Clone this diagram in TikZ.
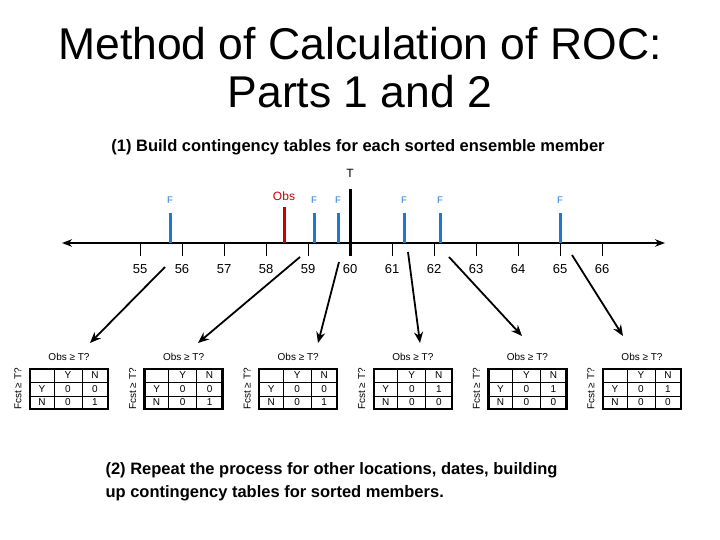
\documentclass[tikz,border=0pt]{standalone}
\usepackage{fontspec}
\setmainfont{Liberation Sans}
\usetikzlibrary{arrows.meta}
\tikzset{
  fcst/.style={line width=3pt, draw={rgb,255:red,30;green,120;blue,210}},
  flabel/.style={text={rgb,255:red,30;green,120;blue,210}, font=\fontsize{9.5}{9.5}\selectfont},
  cell/.style={font=\fontsize{10}{10}\selectfont},
  link/.style={line width=1.8pt, -{Stealth[length=11pt,width=9pt]}}
}
\begin{document}
\begin{tikzpicture}[x=1pt,y=-1pt]
    \useasboundingbox (0,0) rectangle (720,540);
    % Titles
    \node (title) at (360,68) [align=center, font=\fontsize{44.5}{48}\selectfont] {Method of Calculation of ROC:\\Parts 1 and 2};
    \node (part1) at (358,147) [font=\bfseries\fontsize{16.5}{16.5}\selectfont] {(1) Build contingency tables for each sorted ensemble member};

    % Number line
    \draw[line width=2pt, {Stealth[length=10pt]}-{Stealth[length=10pt]}] (62,243) -- (665,243);
    \foreach \v [count=\i from 0] in {55,...,66} {
        \draw[line width=0.8pt] (140+42*\i,243) -- (140+42*\i,256);
        \node at (140+42*\i,269) [font=\fontsize{13}{13}\selectfont] {\v};
    }
    % Threshold
    \draw[line width=3pt] (350,189) -- (350,256);
    \node (T) at (350,173) [font=\fontsize{12}{12}\selectfont] {T};
    % Observation
    \draw[line width=3pt, red!80!black] (284,207) -- (284,243);
    \node at (284,196) [text=red!80!black, font=\fontsize{12}{12}\selectfont] {Obs};
    % Forecasts
    \foreach \fx in {170,314,338,404,440,560} {
        \draw[fcst] (\fx,213) -- (\fx,243);
        \node at (\fx,200) [flabel] {F};
    }

    % Contingency tables
    \foreach \a/\b/\c/\d [count=\k from 0] in {0/0/0/1, 0/0/0/1, 0/0/0/1, 0/1/0/0, 0/1/0/0, 0/1/0/0} {
        \begin{scope}[shift={(30+114.6*\k,369)}]
            \node (obs\k) at (39,-12) [cell] {Obs ≥ T?};
            \node at (-12,20) [cell, rotate=90] {Fcst ≥ T?};
            \draw[line width=2.5pt] (0,0) rectangle (78,40);
            \draw[line width=1pt] (24,0) -- (24,40) (52,0) -- (52,40)
                (0,13) -- (78,13) (0,27) -- (78,27);
            \node at (38,6.5) [cell] {Y};
            \node at (65,6.5) [cell] {N};
            \node at (12,20) [cell] {Y};
            \node at (12,33.5) [cell] {N};
            \node at (38,20) [cell] {\a};
            \node at (65,20) [cell] {\b};
            \node at (38,33.5) [cell] {\c};
            \node at (65,33.5) [cell] {\d};
        \end{scope}
    }

    % Arrows to tables
    \coordinate (s0) at (165,267);
    \coordinate (s1) at (300,257);
    \coordinate (s2) at (339,262);
    \coordinate (s3) at (408,252);
    \coordinate (s4) at (449,257);
    \coordinate (s5) at (572,255);
    \draw[link] (s0) -- (90,343);
    \draw[link] (s1) -- (198,343);
    \draw[link] (s2) -- (318,343);
    \draw[link] (s3) -- (420,343);
    \draw[link] (s4) -- (522,336);
    \draw[link] (s5) -- (623,336);

    % Part 2
    \node (part2) at (102,482) [anchor=west, align=left, font=\bfseries\fontsize{16.5}{23}\selectfont] {(2) Repeat the process for other locations, dates, building\\up contingency tables for sorted members.};
\end{tikzpicture}
\end{document}
